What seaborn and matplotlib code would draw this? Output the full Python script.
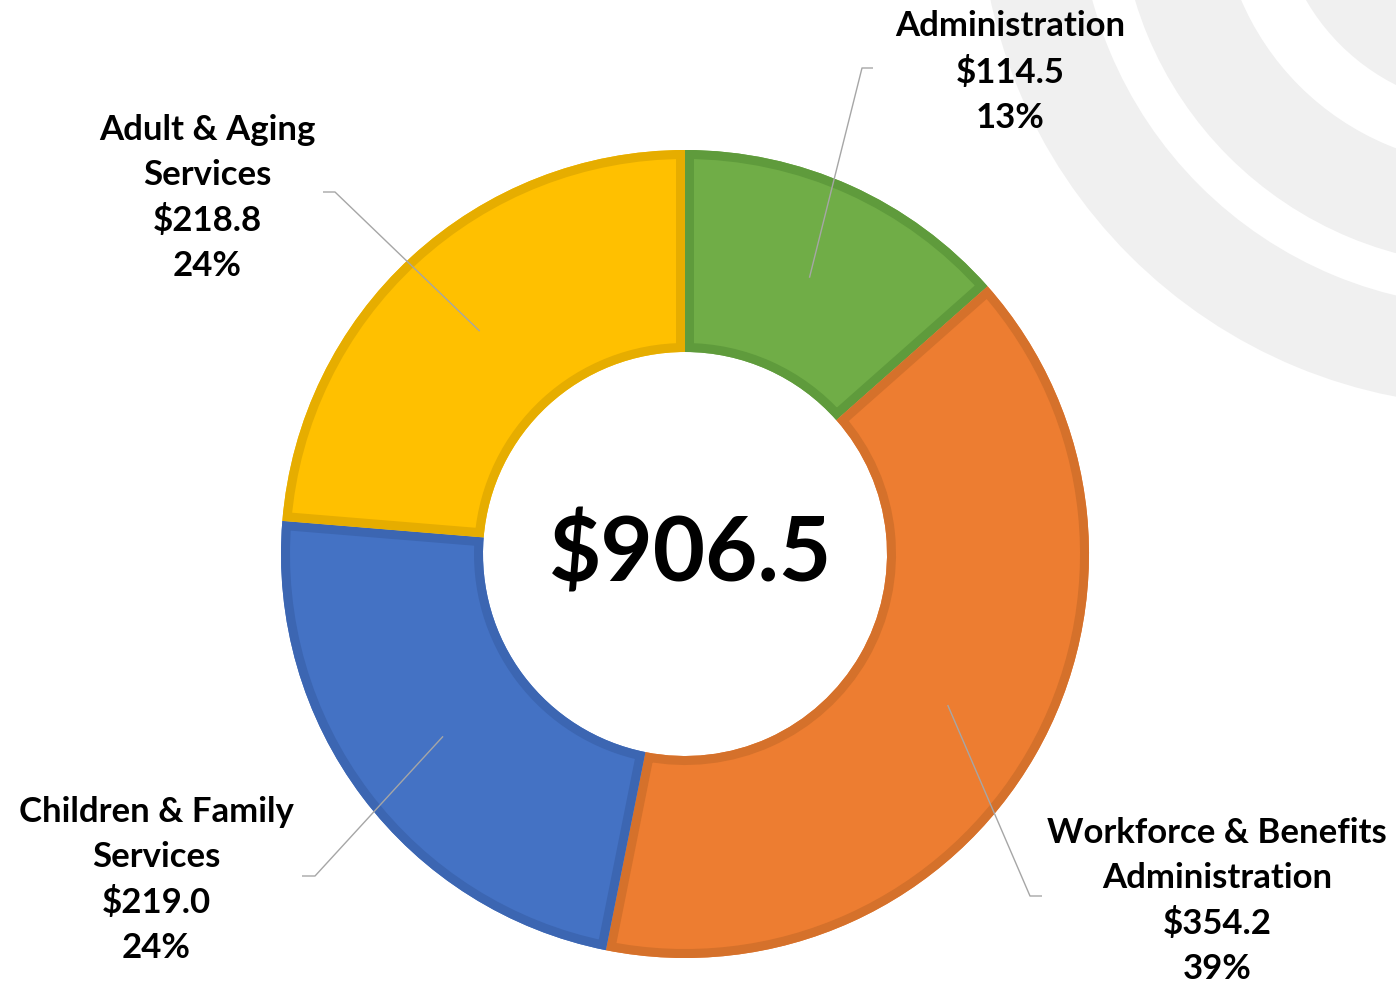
import numpy as np
import matplotlib
matplotlib.use("Agg")
import matplotlib.pyplot as plt
from matplotlib.patches import Wedge, Circle
import seaborn as sns

# ---- data ----
categories = ["Administration", "Workforce & Benefits\nAdministration",
              "Children & Family\nServices", "Adult & Aging\nServices"]
values = [114.5, 354.2, 219.0, 218.8]          # values printed in labels
percent_labels = ["13%", "39%", "24%", "24%"]
total_label = "$906.5"
# wedge sizes as drawn in the picture
wedge_sizes = [122.1, 359.6, 210.0, 214.8]

fill_colors = ["#70AD47", "#ED7D31", "#4472C4", "#FFC000"]
edge_colors = ["#5F9B3C", "#D5712B", "#3C66B2", "#E6AD00"]

sns.set_theme(style="white")
plt.rcParams["font.family"] = ["Lato", "DejaVu Sans"]

W, H = 1396, 987
fig = plt.figure(figsize=(W / 100, H / 100), dpi=100)
ax = fig.add_axes([0, 0, 1, 1])


def P(x, y):
    return (x, H - y)


# background decorative rings (top right)
bg = "#F0F0F0"
bc = P(1493, -107)
ax.add_patch(Wedge(bc, 514, 0, 360, width=99, facecolor=bg, edgecolor="none", zorder=0))
ax.add_patch(Wedge(bc, 374, 0, 360, width=100, facecolor=bg, edgecolor="none", zorder=0))
ax.add_patch(Circle(bc, 216, facecolor=bg, edgecolor="none", zorder=0))

# donut
center = P(685, 555)
R = 404
wedges, _ = ax.pie(wedge_sizes, colors=sns.color_palette(fill_colors), startangle=90,
                   counterclock=False, center=center, radius=R,
                   wedgeprops=dict(width=R * 0.5, edgecolor="none", zorder=2),
                   frame=True)

border_px = 9
for w, ec in zip(wedges, edge_colors):
    b = Wedge(w.center, w.r, w.theta1, w.theta2, width=w.width,
              facecolor="none", edgecolor=ec, linewidth=2 * border_px * 0.72,
              zorder=3)
    ax.add_patch(b)
    b.set_clip_path(w)

# labels with leader lines
label_pos = [P(1010, 72), P(1217, 901), P(156, 880), P(207, 198)]
elbows = [(P(862, 69), P(873, 69)), (P(1030, 897), P(1042, 897)),
          (P(315, 877), P(302, 877)), (P(335, 193), P(323, 193))]

for w, cat, v, pct, lp, (e1, e2) in zip(wedges, categories, values,
                                         percent_labels, label_pos, elbows):
    mid = np.deg2rad((w.theta1 + w.theta2) / 2)
    ax_ = w.center[0] + 0.75 * R * np.cos(mid)
    ay_ = w.center[1] + 0.75 * R * np.sin(mid)
    ax.plot([ax_, e1[0], e2[0]], [ay_, e1[1], e2[1]], color="#A6A6A6",
            lw=1.0, zorder=4, solid_capstyle="butt")
    ax.text(lp[0], lp[1], f"{cat}\n${v:.1f}\n{pct}", ha="center", va="center",
            multialignment="center", fontsize=25, fontweight="bold",
            color="black", linespacing=1.5, zorder=5)

ax.text(center[0] + 6, center[1] + 1, total_label, ha="center", va="center",
        fontsize=65, fontweight="bold", color="black", zorder=5)

ax.set_xlim(0, W)
ax.set_ylim(0, H)
ax.set_aspect("equal")
ax.axis("off")

fig.savefig("out.png", dpi=100, facecolor="white")
